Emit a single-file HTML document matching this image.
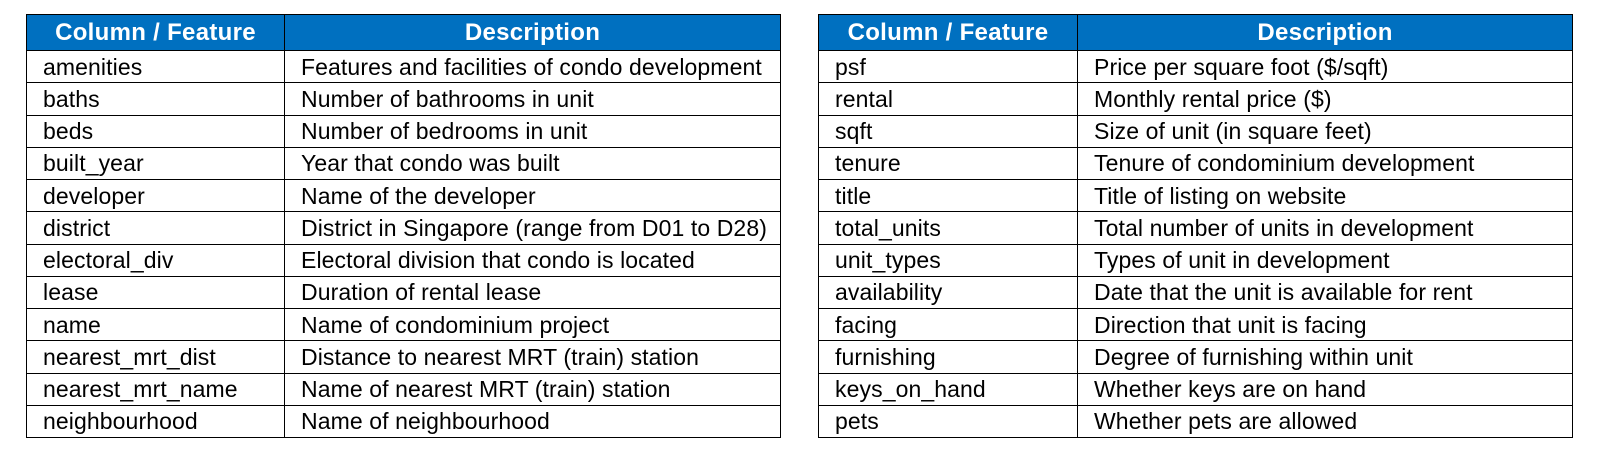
<!DOCTYPE html>
<html><head><style>
body{margin:0;width:1600px;height:450px;background:#fff;position:relative;overflow:hidden;font-family:"Liberation Sans",sans-serif;}
table{position:absolute;top:14px;border-collapse:collapse;table-layout:fixed;}
td,th{border:1.5px solid #000;padding:0 0 0 16px;font-size:23px;color:#000;text-align:left;white-space:nowrap;height:32.25px;box-sizing:border-box;letter-spacing:0.1px;line-height:28px}
th{background:#0070C0;color:#fff;font-weight:bold;text-align:center;padding:0;height:36px;font-size:24px;letter-spacing:0.3px}
</style></head><body>
<table style="left:26px;width:755px">
<colgroup><col style="width:258px"><col></colgroup>
<tr><th>Column / Feature</th><th>Description</th></tr>
<tr><td>amenities</td><td>Features and facilities of condo development</td></tr>
<tr><td>baths</td><td>Number of bathrooms in unit</td></tr>
<tr><td>beds</td><td>Number of bedrooms in unit</td></tr>
<tr><td>built_year</td><td>Year that condo was built</td></tr>
<tr><td>developer</td><td>Name of the developer</td></tr>
<tr><td>district</td><td>District in Singapore (range from D01 to D28)</td></tr>
<tr><td>electoral_div</td><td>Electoral division that condo is located</td></tr>
<tr><td>lease</td><td>Duration of rental lease</td></tr>
<tr><td>name</td><td>Name of condominium project</td></tr>
<tr><td>nearest_mrt_dist</td><td>Distance to nearest MRT (train) station</td></tr>
<tr><td>nearest_mrt_name</td><td>Name of nearest MRT (train) station</td></tr>
<tr><td>neighbourhood</td><td>Name of neighbourhood</td></tr>
</table>
<table style="left:818px;width:755px">
<colgroup><col style="width:259px"><col></colgroup>
<tr><th>Column / Feature</th><th>Description</th></tr>
<tr><td>psf</td><td>Price per square foot ($/sqft)</td></tr>
<tr><td>rental</td><td>Monthly rental price ($)</td></tr>
<tr><td>sqft</td><td>Size of unit (in square feet)</td></tr>
<tr><td>tenure</td><td>Tenure of condominium development</td></tr>
<tr><td>title</td><td>Title of listing on website</td></tr>
<tr><td>total_units</td><td>Total number of units in development</td></tr>
<tr><td>unit_types</td><td>Types of unit in development</td></tr>
<tr><td>availability</td><td>Date that the unit is available for rent</td></tr>
<tr><td>facing</td><td>Direction that unit is facing</td></tr>
<tr><td>furnishing</td><td>Degree of furnishing within unit</td></tr>
<tr><td>keys_on_hand</td><td>Whether keys are on hand</td></tr>
<tr><td>pets</td><td>Whether pets are allowed</td></tr>
</table>
</body></html>
